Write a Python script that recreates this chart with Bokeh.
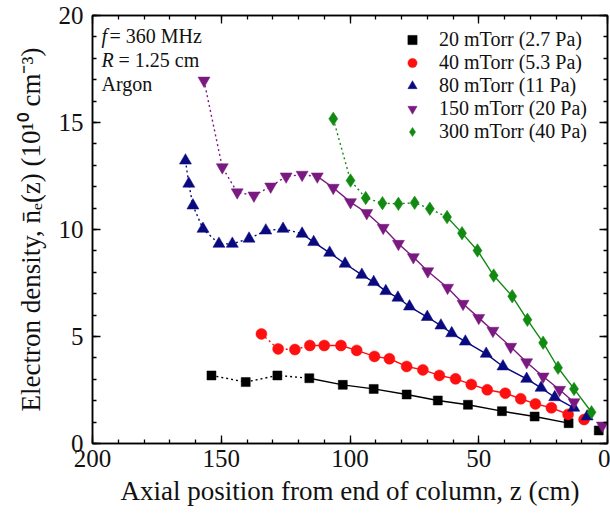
from bokeh.plotting import figure
from bokeh.models import (Range1d, LinearAxis, FixedTicker, Label, Legend,
                          LegendItem, CustomJSTickFormatter)
from bokeh.embed import file_html
from bokeh.resources import INLINE

# ---------------- data ----------------
series_labels = ["20 mTorr (2.7 Pa)", "40 mTorr (5.3 Pa)", "80 mTorr (11 Pa)",
                 "150 mTorr (20 Pa)", "300 mTorr (40 Pa)"]

z_20 = [153.8, 140.5, 128.2, 115.8, 102.8, 90.8, 78.0, 65.9, 54.2, 41.0, 28.3, 15.1, 3.4]
n_20 = [3.18, 2.87, 3.18, 3.05, 2.74, 2.55, 2.29, 2.01, 1.81, 1.51, 1.26, 0.95, 0.61]

z_40 = [134.4, 127.9, 121.4, 115.6, 110.0, 103.5, 97.4, 90.5, 84.7, 78.0, 71.7,
        65.3, 59.0, 52.9, 46.7, 39.7, 33.7, 28.0, 21.8, 15.3, 9.1]
n_40 = [5.12, 4.42, 4.39, 4.58, 4.58, 4.58, 4.35, 4.07, 3.96, 3.60, 3.44,
        3.18, 3.02, 2.76, 2.51, 2.35, 2.09, 1.85, 1.67, 1.36, 1.12]

z_80 = [163.9, 162.6, 161.0, 157.1, 150.9, 145.7, 139.2, 132.7, 126.0, 118.6, 114.1,
        107.9, 101.9, 95.4, 90.8, 86.1, 81.4, 76.9, 70.0, 64.7, 60.5, 55.2, 47.1,
        40.6, 31.4, 25.8, 20.5, 13.1, 7.9]
n_80 = [13.22, 12.14, 11.12, 10.03, 9.33, 9.33, 9.57, 9.95, 10.03, 9.80, 9.41,
        8.91, 8.40, 7.88, 7.54, 7.12, 6.81, 6.40, 5.91, 5.51, 5.15, 4.76, 4.19,
        3.60, 3.02, 2.60, 2.16, 1.67, 1.26]

z_150 = [156.7, 149.6, 143.8, 137.3, 130.8, 124.8, 118.6, 112.7, 106.5, 99.8, 93.5,
         87.1, 81.2, 75.4, 69.8, 62.1, 56.1, 50.0, 44.5, 37.6, 31.4, 25.0, 18.6, 13.0, 2.0]
n_150 = [16.96, 12.91, 11.74, 11.59, 12.01, 12.48, 12.56, 12.48, 11.95, 11.28, 10.77,
         10.08, 9.33, 8.71, 8.05, 7.28, 6.53, 5.87, 5.27, 4.52, 3.80, 3.13, 2.51, 1.93, 0.84]

z_300 = [106.5, 99.8, 93.9, 87.4, 81.2, 74.9, 69.0, 62.3, 56.5, 50.5, 44.2, 37.0,
         31.1, 25.0, 19.2, 13.0, 6.2]
n_300 = [15.17, 12.29, 11.47, 11.23, 11.20, 11.25, 10.97, 10.58, 9.83, 9.02, 7.85, 6.88,
         5.78, 4.71, 3.54, 2.55, 1.46]

x_ticks = [0, 50, 100, 150, 200]
y_ticks = [0, 5, 10, 15, 20]

x_title = "Axial position from end of column, z (cm)"
y_title = "Electron density, n\u0304\u2091(z) (10\u00b9\u2070 cm\u207b\u00b3)"

# ---------------- styling config ----------------
# (z, n, colour, marker, size, solid-from index, connected-to index)
specs = [
    (z_20, n_20, "#000000", "square", 9, 3, 12),
    (z_40, n_40, "#ff1010", "circle", 11, 3, 20),
    (z_80, n_80, "#0a0a80", "triangle", 12, 9, 28),
    (z_150, n_150, "#7a1a80", "inverted_triangle", 12, 7, 24),
    (z_300, n_300, "#128a12", "diamond", 13.5, 7, 17),
]

FONT = "Liberation Serif"
TXT = "#111111"

p = figure(width=610, height=527, output_backend="svg", toolbar_location=None,
           x_range=Range1d(200, 0), y_range=Range1d(0, 20),
           min_border_left=92, min_border_right=3, min_border_top=15,
           min_border_bottom=84)
p.xgrid.visible = False
p.ygrid.visible = False
p.outline_line_color = "black"
p.outline_line_width = 1.5
p.background_fill_color = "white"
p.border_fill_color = "white"


def style_axis(ax):
    ax.major_tick_in = 8
    ax.major_tick_out = 0
    ax.minor_tick_in = 4
    ax.minor_tick_out = 0
    ax.axis_line_color = "black"
    ax.axis_line_width = 1.5
    ax.major_tick_line_width = 1.3
    ax.minor_tick_line_width = 1.3
    ax.major_label_text_font = FONT
    ax.major_label_text_font_size = "25px"
    ax.major_label_text_color = TXT
    ax.axis_label_text_font = FONT
    ax.axis_label_text_font_size = "27px"
    ax.axis_label_text_font_style = "normal"
    ax.axis_label_text_color = TXT


p.xaxis.ticker = FixedTicker(ticks=x_ticks, minor_ticks=list(range(0, 201, 10)))
p.yaxis.ticker = FixedTicker(ticks=y_ticks, minor_ticks=list(range(0, 21, 1)))
for ax in p.xaxis + p.yaxis:
    style_axis(ax)
p.xaxis.major_label_standoff = 6
p.xaxis.axis_label_standoff = 6
p.yaxis.major_label_standoff = 9
p.yaxis.axis_label_standoff = 10
p.xaxis.axis_label = x_title
p.yaxis.axis_label = y_title

top = LinearAxis(ticker=FixedTicker(ticks=x_ticks, minor_ticks=list(range(0, 201, 10))),
                 formatter=CustomJSTickFormatter(code="return ''"))
right = LinearAxis(ticker=FixedTicker(ticks=y_ticks, minor_ticks=list(range(0, 21, 1))),
                   formatter=CustomJSTickFormatter(code="return ''"))
for ax in (top, right):
    style_axis(ax)
    ax.major_label_standoff = 0
    ax.major_label_text_font_size = "1px"
p.add_layout(top, "above")
p.add_layout(right, "right")

items = []
for (z, n, col, mk, sz, s, e), lab in zip(specs, series_labels):
    p.line(z[:s + 1], n[:s + 1], line_color=col, line_width=1.4, line_dash="2 3")
    p.line(z[s:e], n[s:e], line_color=col, line_width=1.4)
    r = p.scatter(z, n, marker=mk, size=sz, fill_color=col, line_color=col, line_width=0.5)
    items.append(LegendItem(label=lab, renderers=[r]))

legend = Legend(items=items, location=(308, 300))
legend.label_text_font = FONT
legend.label_text_font_size = "20px"
legend.label_text_color = TXT
legend.border_line_color = None
legend.background_fill_alpha = 0
legend.glyph_width = 24
legend.glyph_height = 23
legend.label_standoff = 15
legend.label_height = 20
legend.spacing = 0
legend.padding = 0
legend.margin = 0
p.add_layout(legend)


def txt(x, y, s, style="normal", dx=0):
    p.add_layout(Label(x=x, y=y, x_offset=dx, text=s, text_font=FONT,
                       text_font_size="20px", text_font_style=style,
                       text_baseline="middle", text_align="left", text_color=TXT))


# annotations (top-left)
ann_x = 196.5
rows = [19.03, 17.9, 16.78]
txt(ann_x, rows[0], "f", style="italic")
txt(ann_x, rows[0], "= 360 MHz", dx=8)
txt(ann_x, rows[1], "R", style="italic")
txt(ann_x, rows[1], "= 1.25 cm", dx=17)
txt(ann_x, rows[2], "Argon")

open("out.html", "w").write(file_html(p, INLINE))
